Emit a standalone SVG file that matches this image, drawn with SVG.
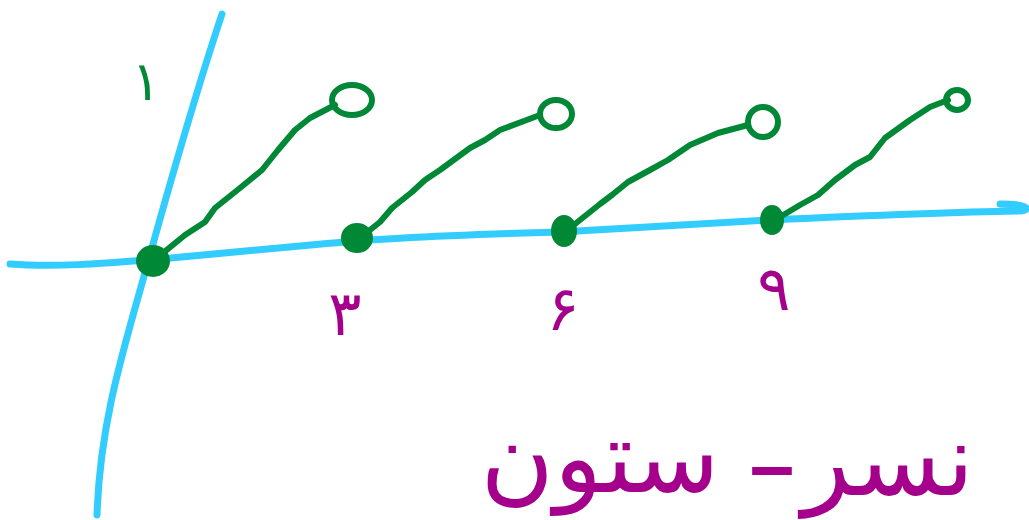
<svg xmlns="http://www.w3.org/2000/svg" width="1029" height="520" viewBox="0 0 1029 520">
<style>
.axis{fill:none;stroke:#33CCFF;stroke-width:7;stroke-linecap:round;stroke-linejoin:round}
.seg{fill:none;stroke:#008837;stroke-width:6;stroke-linecap:round;stroke-linejoin:round}
.open{fill:none;stroke:#008837;stroke-width:6}
.dot{fill:#008837;stroke:#008837;stroke-width:2}
.num{fill:#A5008C;font-family:"DejaVu Sans",sans-serif;font-size:62px;text-anchor:middle}
.hand{fill:#A5008C;font-family:"DejaVu Sans",sans-serif;font-size:100px;text-anchor:middle}
.dash{fill:#A5008C;font-family:"Liberation Sans",sans-serif;font-weight:bold;font-size:80px;text-anchor:middle}
.one{fill:#008837;font-family:"DejaVu Sans",sans-serif;font-size:54px;text-anchor:middle}
</style>
<rect width="1029" height="520" fill="#ffffff"/>
<g id="axes">
<path class="axis" d="M222,14 C200,80 168,190 148,262 C125,345 100,420 97,515"/>
<path class="axis" d="M10,264 C60,268 120,262 160,259 L300,246 C360,240 420,236 560,232 L770,220 C880,215 960,212 1020,211 C1032,210 1028,204 1000,204"/>
</g>
<g id="connectors">
<path class="seg" d="M152,262 L185,235 L205,222 L215,208 L240,188 L262,170 L278,150 L295,130 L310,118 L335,105"/>
<path class="seg" d="M360,238 L380,222 L392,208 L412,192 L425,180 L440,170 L470,148 L485,140 L500,130 L540,115"/>
<path class="seg" d="M565,232 L585,216 L600,204 L612,195 L628,182 L650,170 L668,160 L690,145 L718,133 L748,125"/>
<path class="seg" d="M775,220 L800,205 L818,195 L835,180 L855,165 L870,157 L885,138 L910,120 L930,107 L948,100"/>
</g>
<g id="point-0"><ellipse class="dot" cx="153" cy="261" rx="16" ry="15"/></g>
<g id="point-3"><ellipse class="dot" cx="357" cy="238" rx="15" ry="14"/></g>
<g id="point-6"><ellipse class="dot" cx="564" cy="231" rx="12" ry="15"/></g>
<g id="point-9"><ellipse class="dot" cx="772" cy="220" rx="11" ry="14"/></g>
<g id="open-3"><ellipse class="open" cx="352" cy="100" rx="20" ry="15"/></g>
<g id="open-6"><ellipse class="open" cx="556" cy="114" rx="16" ry="14"/></g>
<g id="open-9"><ellipse class="open" cx="763" cy="122" rx="15" ry="15"/></g>
<g id="open-12"><ellipse class="open" cx="957" cy="100" rx="11" ry="10"/></g>
<g id="label-1"><text class="one" x="146" y="100">۱</text></g>
<g id="label-3"><text class="num" x="345" y="335">۳</text></g>
<g id="label-6"><text class="num" x="563" y="330">۶</text></g>
<g id="label-9"><text class="num" x="774" y="310">۹</text></g>
<g id="formula">
<text class="hand" x="600" y="492">ستون</text>
<text class="dash" x="772" y="492">–</text>
<text class="hand" x="888" y="495">نسر</text>
</g>
</svg>
